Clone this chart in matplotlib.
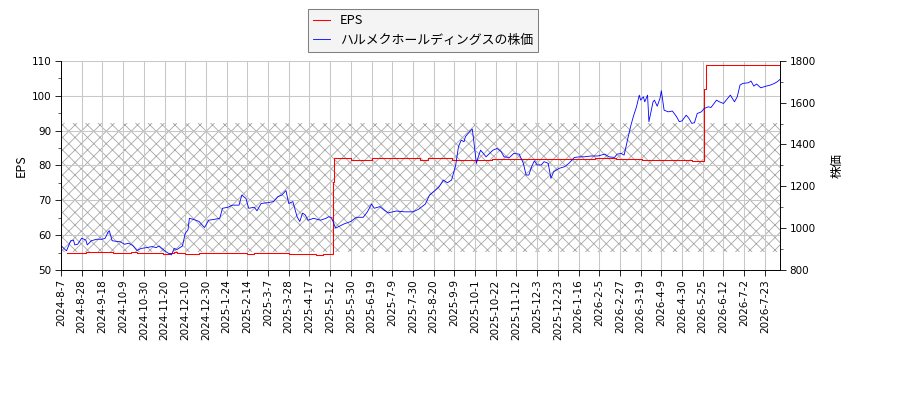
import numpy as np
import matplotlib
matplotlib.use("Agg")
import matplotlib.pyplot as plt
from matplotlib.ticker import MultipleLocator

plt.rcParams['font.family'] = ['DejaVu Sans', 'Noto Sans CJK JP']
plt.rcParams['hatch.linewidth'] = 0.8
jp = ['Noto Sans CJK JP', 'DejaVu Sans']

# x tick labels (one every 15 trading days)
date_labels = ['2024-8-7', '2024-8-28', '2024-9-18', '2024-10-9', '2024-10-30',
               '2024-11-20', '2024-12-10', '2024-12-30', '2025-1-24', '2025-2-14',
               '2025-3-7', '2025-3-28', '2025-4-17', '2025-5-12', '2025-5-30',
               '2025-6-19', '2025-7-9', '2025-7-30', '2025-8-20', '2025-9-9',
               '2025-10-1', '2025-10-22', '2025-11-12', '2025-12-3', '2025-12-23',
               '2026-1-16', '2026-2-5', '2026-2-27', '2026-3-19', '2026-4-9',
               '2026-4-30', '2026-5-25', '2026-6-12', '2026-7-2', '2026-7-23']
n_days = 522

# EPS (step changes, trading-day index -> value)
eps_idx = [4, 18, 38, 51, 55, 74, 78, 82, 84, 90, 100, 135, 140, 165, 180, 185,
           190, 197, 198, 210, 225, 260, 266, 283, 292, 312, 330, 343, 360, 387,
           402, 421, 457, 466, 467, 521]
eps_val = [54.8, 55.1, 54.8, 55.1, 54.8, 54.5, 54.8, 55.1, 54.8, 54.6, 54.8, 54.6,
           54.8, 54.6, 54.5, 54.2, 54.5, 75.3, 82.0, 81.6, 82.0, 81.6, 82.0, 81.5,
           81.6, 81.7, 81.9, 81.7, 81.9, 82.0, 81.8, 81.5, 81.3, 101.8, 108.7, 108.7]

# share price
price_idx = [0, 3, 4, 7, 9, 10, 12, 15, 18, 19, 22, 26, 30, 32, 34, 35, 37, 39, 43,
             46, 49, 52, 55, 58, 62, 66, 69, 71, 75, 77, 80, 82, 84, 88, 90, 92, 93,
             96, 100, 104, 107, 111, 115, 117, 121, 124, 129, 131, 134, 136, 140,
             142, 145, 150, 154, 157, 160, 163, 165, 168, 171, 173, 175, 177, 179,
             183, 188, 192, 194, 196, 199, 201, 205, 210, 214, 219, 222, 225, 227,
             231, 234, 237, 243, 249, 255, 259, 264, 267, 271, 274, 277, 280, 283,
             286, 288, 290, 292, 293, 296, 298, 299, 301, 302, 304, 306, 308, 310,
             313, 316, 319, 321, 325, 328, 332, 335, 337, 339, 341, 343, 345, 348,
             350, 353, 355, 357, 361, 365, 368, 372, 376, 379, 384, 389, 394, 397,
             401, 403, 406, 408, 411, 413, 415, 417, 419, 420, 422, 423, 425, 426,
             427, 429, 430, 432, 434, 435, 437, 440, 443, 446, 448, 450, 453, 455,
             457, 459, 461, 464, 466, 469, 471, 475, 477, 480, 483, 485, 488, 490,
             492, 494, 498, 500, 502, 504, 507, 511, 514, 517, 519, 521]
price_val = [917, 897, 892, 940, 943, 920, 923, 952, 943, 920, 940, 947, 947, 952,
             980, 988, 940, 938, 935, 923, 928, 917, 893, 903, 907, 912, 907, 915,
             893, 883, 872, 903, 898, 915, 975, 992, 1047, 1042, 1032, 1003, 1038,
             1042, 1047, 1095, 1100, 1110, 1110, 1158, 1142, 1095, 1100, 1083, 1118,
             1122, 1127, 1150, 1158, 1180, 1118, 1127, 1055, 1032, 1072, 1063, 1038,
             1047, 1038, 1047, 1055, 1050, 1000, 1007, 1020, 1032, 1052, 1052, 1078,
             1115, 1095, 1103, 1087, 1073, 1082, 1078, 1078, 1090, 1115, 1158, 1180,
             1198, 1230, 1217, 1230, 1302, 1390, 1421, 1413, 1437, 1461, 1474, 1421,
             1310, 1334, 1373, 1357, 1341, 1354, 1373, 1381, 1365, 1341, 1338, 1357,
             1354, 1310, 1254, 1254, 1294, 1322, 1302, 1302, 1318, 1310, 1238, 1270,
             1286, 1294, 1310, 1338, 1341, 1341, 1345, 1345, 1354, 1341, 1338, 1354,
             1357, 1349, 1437, 1493, 1540, 1580, 1636, 1612, 1628, 1604, 1636, 1509,
             1540, 1604, 1612, 1583, 1620, 1657, 1564, 1556, 1560, 1533, 1509, 1513,
             1540, 1525, 1501, 1504, 1548, 1556, 1572, 1580, 1577, 1612, 1604, 1596,
             1620, 1636, 1604, 1628, 1684, 1692, 1695, 1703, 1679, 1689, 1671, 1679,
             1684, 1692, 1700, 1711]

fig = plt.figure(figsize=(12, 16 / 3), dpi=75)
ax = fig.add_axes([0.0678, 0.325, 0.7989, 0.523])
ax2 = ax.twinx()

# hatched band
ax.axhspan(55.3, 92.3, facecolor='none', edgecolor='#a8a8a8', lw=0, hatch='xx', zorder=0.5)
l1, = ax.plot(eps_idx, eps_val, color='red', lw=1.0, drawstyle='steps-post', label='EPS')
l2, = ax2.plot(price_idx, price_val, color='blue', lw=0.8,
               label='ハルメクホールディングスの株価')

ax.set_xlim(0, n_days - 1)
ax.set_ylim(50, 110)
ax2.set_ylim(800, 1800)
ax.set_xticks(np.arange(len(date_labels)) * 15)
ax.set_xticklabels(date_labels, rotation=90)
ax.yaxis.set_major_locator(MultipleLocator(10))
ax.yaxis.set_minor_locator(MultipleLocator(5))
ax2.yaxis.set_major_locator(MultipleLocator(200))
ax2.yaxis.set_minor_locator(MultipleLocator(100))
ax.grid(True, color='#c8c8c8', lw=1.0)

for a in (ax, ax2):
    a.tick_params(which='major', length=5.5, labelsize=10)
    a.tick_params(which='minor', length=2.8)
    a.spines['top'].set_visible(False)

ax.set_ylabel('EPS', family=jp, fontsize=12)
ax2.set_ylabel('株価', family=jp, fontsize=12, labelpad=14)

fig.legend(handles=[l1, l2], loc='upper center', bbox_to_anchor=(0.47, 0.977),
           bbox_transform=fig.transFigure, borderaxespad=0, fancybox=False,
           edgecolor='#808080', facecolor='#f4f4f4', framealpha=1,
           handlelength=1.3, handletextpad=0.8, borderpad=0.4,
           prop={'family': jp, 'size': 12.4})

fig.savefig('out.png', dpi=75)
